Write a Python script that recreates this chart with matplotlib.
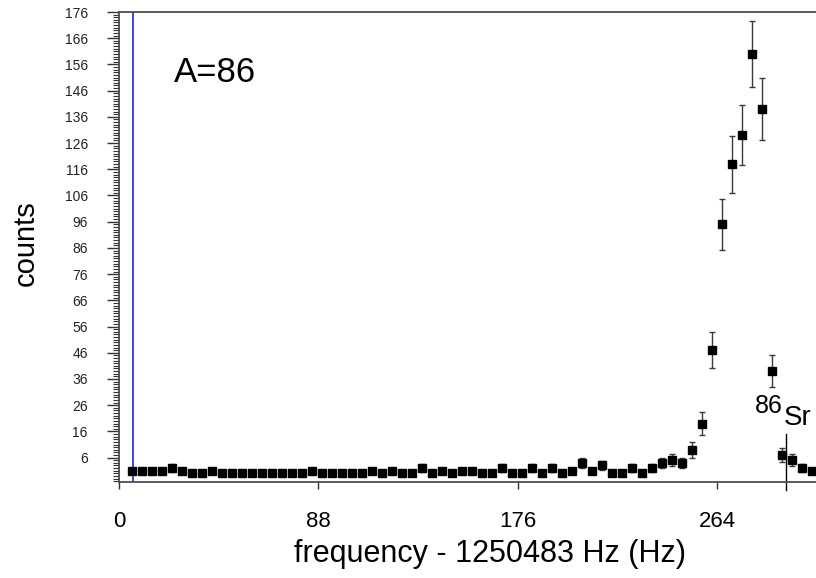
import matplotlib
matplotlib.use("Agg")
import matplotlib.pyplot as plt
import numpy as np
from matplotlib.ticker import MultipleLocator, FixedLocator, NullLocator
from matplotlib import font_manager

# ---------------- data ----------------
freq_start = 5.9      # Hz offset of first scan point
freq_step = 4.41      # Hz between scan points
counts = [1, 1, 1, 1, 2, 1, 0, 0, 1, 0,
          0, 0, 0, 0, 0, 0, 0, 0, 1, 0,
          0, 0, 0, 0, 1, 0, 1, 0, 0, 2,
          0, 1, 0, 1, 1, 0, 0, 2, 0, 0,
          2, 0, 2, 0, 1, 4, 1, 3, 0, 0,
          2, 0, 2, 4, 5, 4, 9, 19, 47, 95,
          118, 129, 160, 139, 39, 7, 5, 2, 1]
x_ticks = [0, 88, 176, 264]
x_ticklabels = ["0", "88", "176", "264"]
y_ticks = list(range(6, 177, 10))
blue_line_x = 6.0
sr86_x = 294.2
sr86_top = 15
annotation_text = "A=86"

freq = freq_start + freq_step * np.arange(len(counts))
counts_arr = np.array(counts, dtype=float)
errors = np.sqrt(counts_arr)

# ---------------- fonts ----------------
available = {f.name for f in font_manager.fontManager.ttflist}
def pick(cands):
    for c in cands:
        if c in available:
            return c
    return "DejaVu Sans"
main_font = pick(["Liberation Sans", "Arial", "DejaVu Sans"])
tick_font = pick(["Liberation Sans Narrow", "DejaVu Sans Condensed", "Liberation Sans"])
plt.rcParams["font.family"] = [main_font, "DejaVu Sans"]

# ---------------- figure ----------------
W, H = 816, 578
fig = plt.figure(figsize=(W / 100, H / 100), dpi=100)
ax = fig.add_axes([119 / W, 1 - 482 / H, (W - 119) / W, 470 / H])

ax.set_xlim(0, 307.5)
ax.set_ylim(-3.3, 176)

ax.errorbar(freq, counts_arr, yerr=errors, fmt="none", ecolor="#3a3a3a",
            elinewidth=1.0, capsize=2.4, capthick=1.0, zorder=2)
ax.plot(freq, counts_arr, "s", color="black", markersize=5.2, zorder=3)

ax.axvline(blue_line_x, color="#3030ff", lw=1.3, zorder=1)
ax.axvline(sr86_x, ymin=-0.017, ymax=(sr86_top + 3.3) / 179.3,
           color="black", lw=1.0, clip_on=False, zorder=2)

# spines
for s in ["top", "left", "bottom"]:
    ax.spines[s].set_color("#4d4d4d")
    ax.spines[s].set_linewidth(1.3)
ax.spines["right"].set_visible(False)

# ticks
ax.xaxis.set_major_locator(FixedLocator(x_ticks))
ax.set_xticklabels(x_ticklabels)
ax.xaxis.set_minor_locator(NullLocator())
ax.yaxis.set_major_locator(FixedLocator(y_ticks))
ax.yaxis.set_minor_locator(MultipleLocator(1))
ax.tick_params(axis="x", which="major", direction="out", length=5, width=1,
               color="#333333", pad=16, labelsize=16, labelcolor="black")
ax.tick_params(axis="y", which="major", direction="out", length=8.5, width=1,
               color="#333333", pad=14, labelsize=10, labelcolor="#222222")
ax.tick_params(axis="y", which="minor", direction="out", length=4.5, width=0.8,
               color="#333333")
ax.tick_params(top=False, right=False)
for lab in ax.get_yticklabels():
    lab.set_fontfamily(tick_font)

ax.set_xlabel("frequency - 1250483 Hz (Hz)", fontsize=22)
ax.xaxis.set_label_coords(0.532, -0.122)
ax.set_ylabel("counts", fontsize=21)
ax.yaxis.set_label_coords(-0.113, 0.508)

fig.text(174 / W, 1 - 82 / H, annotation_text, fontsize=25, va="baseline", ha="left")
fig.text(755 / W, 1 - 413 / H, "86", fontsize=18, va="baseline", ha="left")
fig.text(784 / W, 1 - 425 / H, "Sr", fontsize=20, va="baseline", ha="left")

fig.savefig("out.png", dpi=100)
